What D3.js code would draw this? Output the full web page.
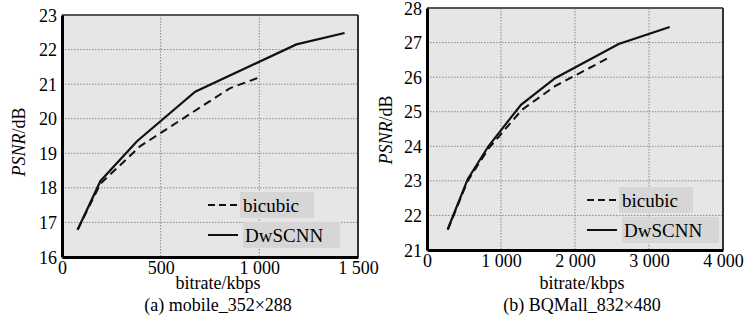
<!DOCTYPE html>
<html><head><meta charset="utf-8">
<script src="https://cdn.jsdelivr.net/npm/d3@7"></script>
<style>body{margin:0;background:#fff}svg{display:block}svg text{font-family:'Liberation Serif','Times New Roman',Tinos,'DejaVu Serif',serif !important;fill:#000}</style>
</head><body><svg id="c" width="749" height="322"></svg>
<script>
// ---- data ----
const seriesNames = ["bicubic", "DwSCNN"];
const mobileBicubic = [[79,16.79],[195,18.12],[395,19.2],[850,20.88],[1012,21.22]];
const mobileDwSCNN  = [[79,16.79],[195,18.2],[380,19.35],[675,20.78],[1188,22.15],[1432,22.48]];
const bqBicubic = [[280,21.58],[550,23.0],[830,23.93],[1280,25.05],[1730,25.74],[2490,26.6]];
const bqDwSCNN  = [[280,21.6],[550,23.05],[830,24.0],[1270,25.2],[1730,25.97],[2590,26.96],[3280,27.45]];
const mobileXTicks = [0,500,1000,1500];
const mobileXLabels = ["0","500","1 000","1 500"];
const mobileYTicks = [16,17,18,19,20,21,22,23];
const bqXTicks = [0,1000,2000,3000,4000];
const bqXLabels = ["0","1 000","2 000","3 000","4 000"];
const bqYTicks = [21,22,23,24,25,26,27,28];
const xTitle = "bitrate/kbps";
const captions = ["(a) mobile_352×288", "(b) BQMall_832×480"];

const svg = d3.select("#c");
const FF = "'Liberation Serif','Times New Roman',Tinos,'DejaVu Serif',serif";

function panel(o){
  const x = d3.scaleLinear().domain(o.xd).range([o.l, o.r]);
  const y = d3.scaleLinear().domain(o.yd).range([o.b, o.t]);
  const g = svg.append("g").attr("font-family",FF);
  g.append("rect").attr("x",o.l).attr("y",o.t).attr("width",o.r-o.l).attr("height",o.b-o.t).attr("fill","#e6e6e6");
  // grid
  g.selectAll(".gy").data(o.yt.slice(1,-1)).enter().append("line")
    .attr("x1",o.l).attr("x2",o.r).attr("y1",d=>y(d)).attr("y2",d=>y(d))
    .attr("stroke","#8a8a8a").attr("stroke-width",1).attr("stroke-dasharray","1.5,1.5");
  g.selectAll(".gx").data(o.xt.slice(1,-1)).enter().append("line")
    .attr("y1",o.t).attr("y2",o.b).attr("x1",d=>x(d)).attr("x2",d=>x(d))
    .attr("stroke","#8a8a8a").attr("stroke-width",1).attr("stroke-dasharray","1.5,1.5");
  // frame
  g.append("line").attr("x1",o.l).attr("x2",o.r).attr("y1",o.t).attr("y2",o.t).attr("stroke","#555").attr("stroke-width",2);
  g.append("line").attr("x1",o.r).attr("x2",o.r).attr("y1",o.t).attr("y2",o.b).attr("stroke","#333").attr("stroke-width",2);
  // axes
  const ax = d3.axisBottom(x).tickValues(o.xt).tickFormat((d,i)=>o.xl[i]).tickSize(0).tickPadding(4);
  const gx = g.append("g").attr("transform",`translate(0,${o.b})`).call(ax).attr("font-family",FF).attr("font-size",18);
  gx.select(".domain").attr("stroke","#000").attr("stroke-width",3);
  const ay = d3.axisLeft(y).tickValues(o.yt).tickFormat(d3.format("d")).tickSize(0).tickPadding(5);
  const gy = g.append("g").attr("transform",`translate(${o.l},0)`).call(ay).attr("font-family",FF).attr("font-size",18);
  gy.select(".domain").attr("stroke","#000").attr("stroke-width",3);
  gy.selectAll("text").attr("dy","0.34em");
  // lines
  const line = d3.line().x(d=>x(d[0])).y(d=>y(d[1]));
  g.append("path").datum(o.s1).attr("d",line).attr("fill","none").attr("stroke","#111").attr("stroke-width",2).attr("stroke-dasharray","8,5");
  g.append("path").datum(o.s2).attr("d",line).attr("fill","none").attr("stroke","#111").attr("stroke-width",2.2);
  // legend
  const lg = o.leg;
  g.append("rect").attr("x",lg.x+32).attr("y",lg.y-13).attr("width",74).attr("height",26).attr("fill","#d6d6d6");
  g.append("rect").attr("x",lg.x+35).attr("y",lg.y+17).attr("width",97).attr("height",26).attr("fill","#d6d6d6");
  g.append("line").attr("x1",lg.x).attr("x2",lg.x+30).attr("y1",lg.y).attr("y2",lg.y).attr("stroke","#111").attr("stroke-width",2).attr("stroke-dasharray","7,4");
  g.append("line").attr("x1",lg.x).attr("x2",lg.x+30).attr("y1",lg.y+30).attr("y2",lg.y+30).attr("stroke","#111").attr("stroke-width",2);
  g.append("text").attr("x",lg.x+35).attr("y",lg.y+7).attr("font-size",19).text(seriesNames[0]);
  g.append("text").attr("x",lg.x+37).attr("y",lg.y+37).attr("font-size",19).text(seriesNames[1]);
  // titles
  const cx = o.cx;
  g.append("text").attr("x",cx).attr("y",289).attr("text-anchor","middle").attr("font-size",18).text(xTitle);
  g.append("text").attr("x",cx).attr("y",311).attr("text-anchor","middle").attr("font-size",18).text(o.cap);
  const yl = g.append("text").attr("transform",`translate(${o.ylx},${o.yly}) rotate(-90)`).attr("text-anchor","middle").attr("font-size",18);
  yl.append("tspan").attr("font-style","italic").text("PSNR");
  yl.append("tspan").text("/dB");
}

panel({l:62,r:358,t:15,b:257,xd:[0,1500],yd:[16,23],xt:mobileXTicks,xl:mobileXLabels,yt:mobileYTicks,
  s1:mobileBicubic,s2:mobileDwSCNN,leg:{x:208,y:205},cx:218,cap:captions[0],ylx:25,yly:142});
panel({l:427,r:723,t:8,b:250,xd:[0,4000],yd:[21,28],xt:bqXTicks,xl:bqXLabels,yt:bqYTicks,
  s1:bqBicubic,s2:bqDwSCNN,leg:{x:587,y:200},cx:582,cap:captions[1],ylx:392,yly:130});
</script></body></html>
